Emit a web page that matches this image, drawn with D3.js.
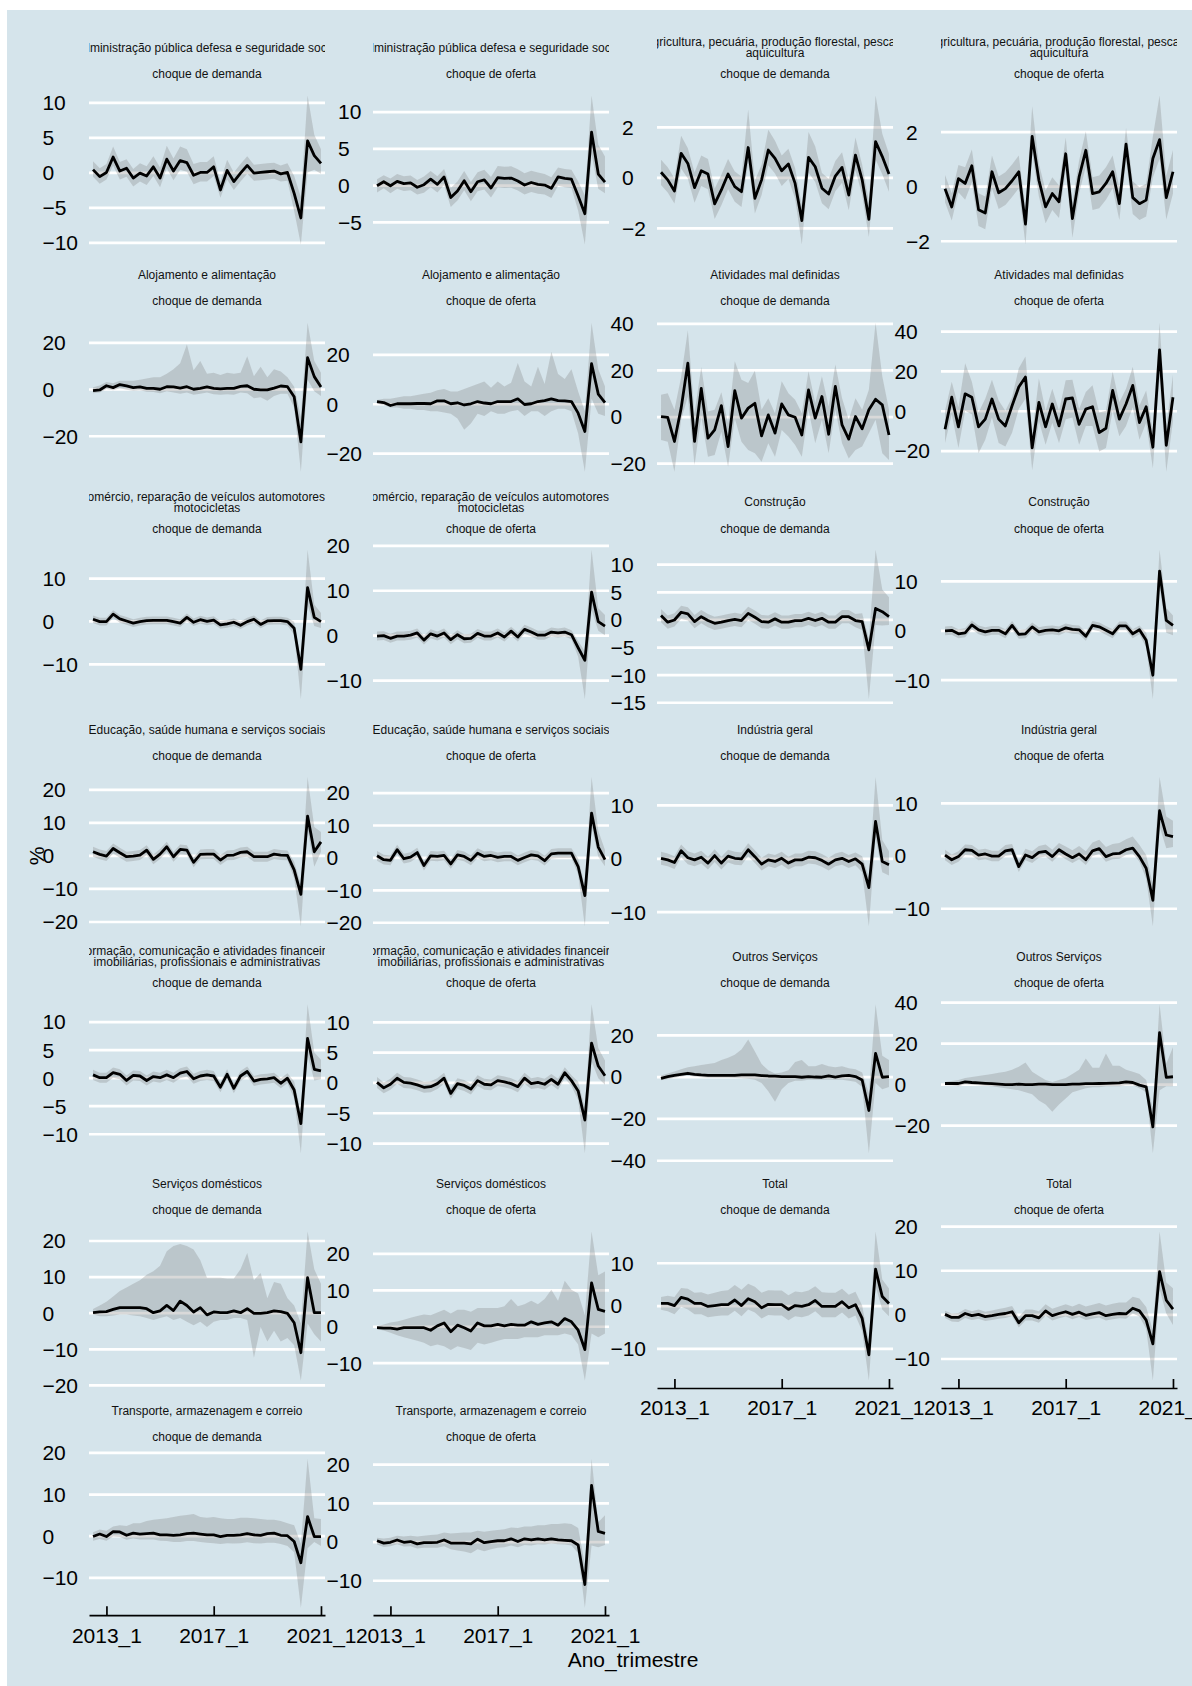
<!DOCTYPE html>
<html><head><meta charset="utf-8">
<script src="https://cdn.jsdelivr.net/npm/d3@7"></script>
<style>body{margin:0;background:#fff} svg{display:block}</style>
</head><body><svg id="c" width="1192" height="1686"></svg>
<script>
const quarters = ["2012_3","2012_4","2013_1","2013_2","2013_3","2013_4","2014_1","2014_2","2014_3","2014_4","2015_1","2015_2","2015_3","2015_4","2016_1","2016_2","2016_3","2016_4","2017_1","2017_2","2017_3","2017_4","2018_1","2018_2","2018_3","2018_4","2019_1","2019_2","2019_3","2019_4","2020_1","2020_2","2020_3","2020_4","2021_1"];
const tickQuarters = ["2013_1","2017_1","2021_1"];
const sectors = [
 "Administração pública defesa e seguridade social",
 "Agricultura, pecuária, produção florestal, pesca e\naquicultura",
 "Alojamento e alimentação",
 "Atividades mal definidas",
 "Comércio, reparação de veículos automotores e\nmotocicletas",
 "Construção",
 "Educação, saúde humana e serviços sociais",
 "Indústria geral",
 "Informação, comunicação e atividades financeiras,\nimobiliárias, profissionais e administrativas",
 "Outros Serviços",
 "Serviços domésticos",
 "Total",
 "Transporte, armazenagem e correio"];
const shocks = ["choque de demanda","choque de oferta"];
const xTitle = "Ano_trimestre";
const yTitle = "%";

// ---- series: line, band widths above (U) / below (D) or band limits (Hi/Lo) ----
const adDemL=[0.4,-0.6,0,2.2,0.2,0.6,-0.8,-0.1,-0.5,0.8,-0.8,1.9,0.2,1.7,1.4,-0.4,0,0,0.8,-2.5,0.3,-1.3,-0.1,1.0,-0.1,0,0.1,0.2,-0.2,0,-3.0,-6.5,4.5,2.4,1.3];
const adDemU=[1.2,1.2,1.2,1.5,1.3,1.3,1.3,1.4,1.4,1.5,1.5,1.9,1.8,2.0,1.9,1.6,1.5,1.5,1.5,1.2,1.5,1.3,1.3,1.3,1.2,1.2,1.2,1.2,1.2,1.3,2.5,3.0,6.5,3.0,2.0];
const adDemD=[1.0,1.0,1.0,1.2,1.2,1.2,1.2,1.2,1.3,1.3,1.3,1.3,1.3,1.3,1.3,1.3,1.3,1.3,1.3,1.1,1.3,1.2,1.2,1.2,1.1,1.1,1.1,1.1,1.1,1.2,2.5,3.8,4.5,2.0,1.5];
const adDemT=[-10,-5,0,5,10];

const adOfL=[-0.1,0.45,-0.1,0.5,0.2,0.3,-0.3,0.05,0.8,0.1,1.1,-1.7,-0.8,0.6,-0.9,0.45,0.7,-0.4,1.0,0.9,0.95,0.55,0,0.35,0.1,0,-0.45,1.1,0.9,0.8,-1.5,-3.9,7.2,1.5,0.4];
const adOfU=[0.9,0.9,1.0,1.0,1.0,1.0,1.0,1.1,1.1,1.1,1.1,1.3,1.3,1.3,1.3,1.3,1.4,1.5,1.6,1.6,1.6,1.6,1.6,1.6,1.6,1.5,1.5,1.3,1.3,1.3,2.0,2.5,5.0,4.0,3.5];
const adOfD=[0.9,0.9,1.0,1.0,1.0,1.0,1.0,1.1,1.1,1.1,1.1,1.3,1.3,1.3,1.3,1.3,1.3,1.3,1.3,1.3,1.3,1.3,1.3,1.3,1.3,1.3,1.3,1.2,1.2,1.2,2.0,4.2,3.0,2.0,1.5];
const adOfT=[-5,0,5,10];

const agDemL=[0.2,-0.1,-0.54,0.95,0.55,-0.41,0.26,0.13,-1.05,-0.5,0.13,-0.37,-0.57,1.18,-0.83,-0.1,1.08,0.75,0.26,0.53,-0.24,-1.71,0.79,0.42,-0.43,-0.66,0.05,0.39,-0.7,0.88,-0.1,-1.66,1.41,0.82,0.13];
const agDemU=[0.5,0.5,0.5,0.7,0.6,0.6,0.6,0.6,0.6,0.6,0.6,0.6,0.6,1.5,0.7,0.6,0.8,0.7,0.6,0.6,0.6,0.6,1.0,0.8,0.6,0.6,0.6,0.6,0.6,0.7,0.6,0.7,1.83,0.9,0.8];
const agDemD=[0.5,0.5,0.5,0.6,0.6,0.6,0.6,0.6,0.6,0.6,0.6,0.6,0.6,0.6,0.6,0.6,0.6,0.6,0.6,0.6,0.6,0.95,0.6,0.6,0.6,0.6,0.6,0.6,0.6,0.6,0.6,0.7,0.7,0.7,0.7];
const agDemT=[-2,0,2];

const agOfL=[-0.09,-0.76,0.28,0.1,0.75,-0.86,-0.98,0.53,-0.24,-0.09,0.2,0.53,-1.39,1.83,0.22,-0.76,-0.27,-0.57,1.19,-1.19,0.34,1.32,-0.27,-0.21,0.1,0.53,-0.64,1.54,-0.42,-0.64,-0.51,1.02,1.71,-0.42,0.53];
const agOfU=[0.5,0.5,0.5,0.6,0.6,0.6,0.6,0.6,0.6,0.6,0.6,0.6,0.6,1.1,0.6,0.6,0.6,0.6,0.6,0.6,0.6,0.7,0.6,0.6,0.6,0.6,0.6,0.6,0.6,0.6,0.6,0.8,1.62,0.8,0.8];
const agOfD=[0.5,0.5,0.5,0.6,0.6,0.6,0.6,0.6,0.6,0.6,0.6,0.6,0.75,0.6,0.6,0.6,0.6,0.6,0.6,0.7,0.6,0.6,0.6,0.6,0.6,0.6,0.6,0.6,0.6,0.6,0.6,0.7,0.7,0.8,0.8];
const agOfT=[-2,0,2];

const alDemL=[-0.7,-0.4,1.4,0.6,1.9,1.3,0.6,0.9,0.3,0.3,-0.1,1.0,0.9,0.4,1.0,-0.1,0.3,0.9,0.3,0.1,0.3,0.3,1.1,1.4,-0.1,-0.4,-0.4,0.4,1.3,1.0,-3.3,-22.6,13.4,5.3,0.9];
const alDemHi=[0.8,1.5,3,2.5,3.5,3.5,3.5,4,4.5,5,5,6.5,8.5,11,19,8,12,6.5,7,6,7,6.5,7,14,5.5,9.5,5,8.5,7.5,5,1,-12,28.4,12,7];
const alDemLo=[-1.8,-1.5,0,-0.5,0.3,-0.3,-0.7,-0.5,-1.2,-1.3,-1.8,-1,-1.5,-2,-1.5,-2.5,-2,-1.5,-2.2,-2.5,-2.2,-2.5,-1.5,-1.8,-4,-3.5,-5,-3,-2,-2,-8,-35.4,4,-1,-3];
const alDemT=[-20,0,20];

const alOfL=[0.9,0.5,-0.7,0,0,0,0.1,0.1,0,1.2,1.2,0,0.4,-0.5,0,0.9,0.3,0,0.9,0.9,0.9,2.0,-0.3,0,0.9,1.3,2.0,1.3,1.2,0.9,-3.8,-11.2,16.2,3.9,0.5];
const alOfHi=[1.5,2,2,2.5,3,3,3.5,4,4.5,5.5,6,5,5,6,7,8,9,6.5,9,7,8.5,16.5,9,7,15,8,21,12,10,14,5,-3,32.8,14,7];
const alOfLo=[0,-0.5,-1.5,-1.5,-2,-2,-2.5,-2.5,-3,-3,-3.5,-4,-6,-10.5,-8,-4,-5,-3,-4,-4,-3,-2.5,-5,-3,-3,-5,-3,-2,-2,-3,-12,-27.5,2,-4,-5];
const alOfT=[-20,0,20];

const atDemL=[0,-0.4,-10.7,3.6,22.9,-10.7,12.1,-9.3,-5.7,4.7,-12.9,11.1,-0.7,3.6,5.7,-8.3,0.7,-7.1,5.4,0.7,-0.3,-7.9,11.4,-0.7,8.6,-7.6,12.9,-3.6,-9.7,0,-5.3,2.9,7.4,5,-7.9];
const atDemHi=[9.4,10,2.9,17,37,1.4,21.3,2.2,2.9,10.4,-2.9,23.7,15.8,14.4,19.7,2.9,7.9,1.4,15.1,10,7.2,1.4,19.4,5.8,17.3,4.3,22.3,7.9,-1.4,7.9,2.9,11.5,40.3,17.3,2.9];
const atDemLo=[-10.1,-10.8,-23.7,-1.4,8.6,-20.9,0,-17.3,-16.5,-6.5,-21.6,-0.7,-10.8,-14.4,-15.8,-19.4,-11.5,-17.3,-5.8,-8.6,-12.2,-17.3,2.9,-11.5,-1.4,-15.8,2.9,-11.5,-18,-14.4,-12.9,-7.2,-1.4,-15.8,-18.7];
const atDemT=[-20,0,20,40];

const atOfL=[-9.3,6.8,-8.1,8.5,6.8,-8.1,-4.2,5.9,-4.2,-7.6,2.5,11.9,16.9,-18.6,4.2,-8.1,3.4,-7.6,5.9,6.4,-6.8,0.8,2.0,-11.0,-8.8,10.2,-4.2,3.4,12.7,-5.9,2.0,-18.3,30.5,-17.3,6.8];
const atOfHi=[0,14.5,1.7,23.8,14.5,-0.9,6,15.6,5.1,0,6.8,21.3,27.2,-11.9,16.2,0,11,0,15.3,15.6,0.9,9.4,12.8,-0.9,0,19.6,4.3,11,22.1,2.6,10.2,-10.2,44.2,-7.7,17.9];
const atOfLo=[-16.2,-1.7,-18.7,0,-1.7,-21.3,-14.5,-3.4,-16.2,-17.9,-11,0.9,6,-29.8,-5.1,-17,-6,-16.2,-4.3,-3.4,-17,-7.7,-7.7,-20.4,-18.7,0,-12.8,-7.7,1.7,-14.5,-6,-28.9,17,-30.6,-5.1];
const atOfT=[-20,0,20,40];

const coDemL=[0.4,-0.15,-0.15,1.6,0.5,0,-0.5,-0.15,0.1,0.15,0.15,0.15,-0.15,-0.5,0.85,-0.3,0.3,-0.1,0.2,-0.9,-0.7,-0.3,-1.0,-0.15,0.4,-0.8,0,0.1,0.1,-0.15,-1.7,-11.3,7.8,0.85,-0.15];
const coDemU=[0.9,0.9,0.9,0.9,0.9,0.9,0.9,0.9,0.9,0.9,0.9,0.9,0.9,0.9,0.9,0.9,0.9,0.9,0.9,0.9,0.9,0.9,0.9,0.9,0.9,0.9,0.9,0.9,0.9,0.9,1.5,2,8.8,3,2];
const coDemD=[0.9,0.9,0.9,0.9,0.9,0.9,0.9,0.9,0.9,0.9,0.9,0.9,0.9,0.9,0.9,0.9,0.9,0.9,0.9,0.9,0.9,0.9,0.9,0.9,0.9,0.9,0.9,0.9,0.9,0.9,1.5,6.9,4,2,1.5];
const coDemT=[-10,0,10];

const coOfL=[-0.2,-0.1,-0.7,-0.2,-0.2,0,0.5,-1.1,0.3,-0.2,0.5,-1.0,0.1,-0.8,-0.7,0.4,-0.2,-0.2,0.5,-0.4,0.9,-0.4,1.3,0.7,0,0,0.7,0.5,0.7,0.1,-2.8,-5.6,9.6,3.0,2.0];
const coOfU=[1,1,1,1,1,1,1,1,1,1,1,1,1,1,1,1,1,1,1,1,1,1,1,1,1,1,1,1,1,1,1.5,2,9.4,3,2.5];
const coOfD=[1,1,1,1,1,1,1,1,1,1,1,1,1,1,1,1,1,1,1,1,1,1,1,1,1,1,1,1,1,1,2,8.6,4,2,2];
const coOfT=[-10,0,10,20];

const cnDemL=[0.7,-0.5,-0.1,1.3,1.0,-0.4,0.5,-0.2,-0.7,-0.5,-0.2,0,-0.2,1.1,0.4,-0.4,-0.5,0.1,-0.5,-0.5,-0.2,-0.2,0.2,-0.2,0.2,-0.5,-0.5,0.5,0.5,-0.2,-0.4,-5.5,2.0,1.4,0.5];
const cnDemU=[1.2,1.2,1.2,1.2,1.2,1.2,1.2,1.2,1.2,1.2,1.2,1.2,1.2,1.2,1.2,1.2,1.2,1.2,1.2,1.2,1.2,1.2,1.2,1.2,1.2,1.2,1.2,1.2,1.2,1.2,1.5,2,10.6,4,3.5];
const cnDemD=[1.2,1.2,1.2,1.2,1.2,1.2,1.2,1.2,1.2,1.2,1.2,1.2,1.2,1.2,1.2,1.2,1.2,1.2,1.2,1.2,1.2,1.2,1.2,1.2,1.2,1.2,1.2,1.2,1.2,1.2,1.5,8.9,3,2.5,1.5];
const cnDemT=[-15,-10,-5,0,5,10];

const cnOfL=[-0.1,0,-0.7,-0.5,1.1,0.1,-0.3,0,0,-0.7,1.0,-0.8,-0.7,0.7,-0.3,0,0.1,-0.1,0.5,0.2,0.1,-1.2,1.0,0.7,0,-0.7,0.9,0.9,-0.7,0.1,-2.0,-9.1,12.0,2.0,1.0];
const cnOfU=[0.9,0.9,0.9,0.9,0.9,0.9,0.9,0.9,0.9,0.9,0.9,0.9,0.9,0.9,0.9,0.9,0.9,0.9,0.9,0.9,0.9,0.9,0.9,0.9,0.9,0.9,0.9,0.9,0.9,0.9,1.5,2,4.3,2.5,2];
const cnOfD=[0.9,0.9,0.9,0.9,0.9,0.9,0.9,0.9,0.9,0.9,0.9,0.9,0.9,0.9,0.9,0.9,0.9,0.9,0.9,0.9,0.9,0.9,0.9,0.9,0.9,0.9,0.9,0.9,0.9,0.9,1.5,4.8,3,2.5,2];
const cnOfT=[-10,0,10];

const edDemL=[1.1,0.3,-0.2,2.1,0.8,-0.4,-0.2,0.1,1.6,-1.2,0.4,2.6,-0.4,1.8,1.6,-2.1,0.3,0.4,0.4,-1.4,0,0.1,0.9,1.1,-0.4,-0.4,-0.4,0.4,0.1,0,-4.4,-11.8,11.9,1.1,4.1];
const edDemU=[1.5,1.5,1.5,1.5,1.5,1.5,1.5,1.5,1.5,1.5,1.5,1.5,1.5,1.5,1.5,1.5,1.5,1.5,1.5,1.5,1.5,1.5,1.5,1.5,1.5,1.5,1.5,1.5,1.5,1.5,2.5,3,11.8,7.5,3];
const edDemD=[1.5,1.5,1.5,1.5,1.5,1.5,1.5,1.5,1.5,1.5,1.5,1.5,1.5,1.5,1.5,1.5,1.5,1.5,1.5,1.5,1.5,1.5,1.5,1.5,1.5,1.5,1.5,1.5,1.5,1.5,2.5,9.6,4,4.5,3];
const edDemT=[-20,-10,0,10,20];

const edOfL=[0.5,-0.7,-0.9,2.4,-0.4,0.1,1.5,-2.5,0.5,0.3,0.6,-2.0,0.8,0.3,-0.9,1.3,0.3,0.6,0,0.3,0.3,-0.9,0,0.8,0.5,-1.0,1.1,1.3,1.3,1.3,-2.8,-11.8,13.7,3.2,-0.7];
const edOfU=[1.5,1.5,1.5,1.5,1.5,1.5,1.5,1.5,1.5,1.5,1.5,1.5,1.5,1.5,1.5,1.5,1.5,1.5,1.5,1.5,1.5,1.5,1.5,1.5,1.5,1.5,1.5,1.5,1.5,1.5,2.5,3,11.1,5,3];
const edOfD=[1.5,1.5,1.5,1.5,1.5,1.5,1.5,1.5,1.5,1.5,1.5,1.5,1.5,1.5,1.5,1.5,1.5,1.5,1.5,1.5,1.5,1.5,1.5,1.5,1.5,1.5,1.5,1.5,1.5,1.5,2.5,9.4,4,3,2];
const edOfT=[-20,-10,0,10,20];

const inDemL=[0,-0.3,-0.8,1.4,0.1,-0.3,0.2,-0.9,0.5,-0.9,0.4,0,-0.1,1.6,0.3,-1.1,-0.3,-0.6,0,-0.9,-0.3,-0.3,0.2,0.1,-0.4,-1.1,-0.3,0,-0.6,-0.1,-1.1,-5.5,6.9,-0.6,-1.2];
const inDemU=[1.2,1.2,1.2,1.2,1.2,1.2,1.2,1.2,1.2,1.2,1.2,1.2,1.2,1.2,1.2,1.2,1.2,1.2,1.2,1.2,1.2,1.2,1.2,1.2,1.2,1.2,1.2,1.2,1.2,1.2,1.5,2,8.3,4,2.5];
const inDemD=[1.2,1.2,1.2,1.2,1.2,1.2,1.2,1.2,1.2,1.2,1.2,1.2,1.2,1.2,1.2,1.2,1.2,1.2,1.2,1.2,1.2,1.2,1.2,1.2,1.2,1.2,1.2,1.2,1.2,1.2,1.5,7.2,3,2,2];
const inDemT=[-10,0,10];

const inOfL=[0.1,-0.8,-0.2,1.1,1.0,0.1,0.3,-0.1,-0.1,0.9,1.1,-2.1,0.1,-0.4,0.6,0.8,-0.2,1.1,0.3,-0.4,0.3,-0.8,0.9,1.3,-0.2,0.3,0.4,1.1,1.4,-0.2,-2.4,-8.5,8.5,3.9,3.6];
const inOfU=[1,1,1,1,1,1,1,1,1,1.1,1.1,1.1,1.2,1.2,1.2,1.3,1.3,1.3,1.4,1.4,1.5,1.6,1.6,1.7,1.8,1.9,2,2,2.2,2.2,2.5,3,6.4,3.5,3];
const inOfD=[1,1,1,1,1,1,1,1,1,1,1,1,1,1,1,1,1,1,1,1,1,1,1,1,1,1,1,1,1,1,2,4.9,3,2.5,2];
const inOfT=[-10,0,10];

const ifDemL=[0.5,0,0,0.9,0.6,-0.5,0.4,0.3,-0.5,0.2,0,0.5,0,0.8,1.1,-0.2,0.3,0.5,0.3,-1.7,0.6,-1.9,0.3,1.1,-0.6,-0.3,-0.2,0,-1.0,-0.1,-2.2,-8.2,7.0,1.5,1.2];
const ifDemU=[0.9,0.9,0.9,0.9,0.9,0.9,0.9,0.9,0.9,0.9,0.9,0.9,0.9,0.9,0.9,0.9,0.9,0.9,0.9,0.9,0.9,0.9,0.9,0.9,0.9,0.9,0.9,0.9,0.9,0.9,1.5,2,6.1,3,2];
const ifDemD=[0.9,0.9,0.9,0.9,0.9,0.9,0.9,0.9,0.9,0.9,0.9,0.9,0.9,0.9,0.9,0.9,0.9,0.9,0.9,0.9,0.9,0.9,0.9,0.9,0.9,0.9,0.9,0.9,0.9,0.9,1.5,5.3,3,2,1.5];
const ifDemT=[-10,-5,0,5,10];

const ifOfL=[0,-0.9,-0.3,0.7,0,-0.1,-0.4,-0.8,-0.7,-0.2,0.7,-1.8,-0.2,-0.5,-1.1,0.3,-0.3,-0.4,0.3,0.1,-0.2,-0.7,0.7,-0.2,0,-0.3,0.5,-0.3,1.6,0.3,-1.4,-6.2,6.5,2.7,1.1];
const ifOfU=[0.9,0.9,0.9,0.9,0.9,0.9,0.9,0.9,0.9,0.9,0.9,0.9,0.9,0.9,0.9,0.9,0.9,0.9,0.9,0.9,0.9,0.9,0.9,0.9,0.9,0.9,0.9,0.9,0.9,0.9,1.5,2,6.4,3,2.5];
const ifOfD=[0.9,0.9,0.9,0.9,0.9,0.9,0.9,0.9,0.9,0.9,0.9,0.9,0.9,0.9,0.9,0.9,0.9,0.9,0.9,0.9,0.9,0.9,0.9,0.9,0.9,0.9,0.9,0.9,0.9,0.9,1.5,5.5,3,2,1.5];
const ifOfT=[-10,-5,0,5,10];

const otDemL=[-0.8,0,0.6,1.1,1.6,1.1,0.8,0.6,0.6,0.6,0.6,0.6,0.8,0.8,0.8,0.5,0.3,0.2,0,0,0,-0.3,0,-0.2,-0.3,0.3,-0.2,0.3,0.6,0,-1.6,-16.2,11.1,-0.3,0];
const otDemHi=[0.5,1.5,2.5,3.5,4.5,5,5.5,6,6.5,8,9,10.5,13,17.8,12,6,3,1.5,2,3,7,8,5,5,6,5,4.5,5,4,3.5,2,-8,34.6,10,8];
const otDemLo=[-1.8,-1.2,-0.5,0,0.5,0,-0.3,-0.5,-0.5,-0.6,-0.6,-0.7,-0.8,-1,-1.5,-3,-7,-12,-6,-3,-2,-2,-1.5,-1.5,-1.5,-1.5,-1.5,-1.5,-2,-2.5,-5,-36.7,-3,-6,-5];
const otDemT=[-40,-20,0,20];

const otOfL=[0.3,0.3,0.3,1.1,0.8,0.6,0.4,0.2,0,-0.2,-0.2,0,-0.2,-0.2,0,0,-0.2,-0.2,-0.2,0,0,0.2,0.2,0.3,0.4,0.5,0.6,1.1,0.8,-0.5,-1.3,-20.9,25.1,3.3,3.6];
const otOfHi=[1,1.5,2,3,3.5,4,4.5,5,5.5,6,7,8.5,10.5,6,4,2,1,2,3,5,7,12.5,8,8,15,9,9,7,6,5,2,-12,39,10,18];
const otOfLo=[-0.5,-0.7,-1,0,-0.3,-0.5,-0.8,-1,-1.5,-2,-2.5,-3,-4,-5,-8,-10,-13.5,-10,-7,-4,-3,-2,-1.5,-1.5,-1,-1,-1,-0.5,-0.5,-2,-4,-33.8,-3,-1,-1];
const otOfT=[-20,0,20,40];

const sdDemL=[0,0.2,0.3,0.9,1.4,1.4,1.4,1.4,1.1,0,0.5,2.0,0.6,3.2,2.0,0.2,1.4,-0.6,0.2,0,0,0.5,0,1.1,-0.2,-0.2,0,0.5,0.3,-0.2,-2.8,-11.1,9.7,0,0];
const sdDemHi=[1,2,3,4.5,6,7,8,9,10.5,11.5,13,17,18.5,19,18.5,17.5,14.5,9.7,9.7,9.7,9.5,9.5,12,16.5,9,11,4,8.5,8,4,2,-3,22.5,12,8];
const sdDemLo=[-0.5,-1,-1,-0.8,-0.5,-0.5,-0.8,-1,-1.5,-2,-1.5,-1,-2,-1.5,-2.5,-3.5,-2.5,-4,-2.5,-2,-2,-1.5,-1.5,-2,-12.5,-4,-8,-5,-8,-7,-9,-18.8,-3,-6,-8];
const sdDemT=[-20,-10,0,10,20];

const sdOfL=[-0.4,-0.5,-0.5,-0.8,-0.4,-0.4,-0.4,-0.4,-1.1,0.1,0.9,-1.5,0.3,-0.4,-1.3,0.9,0.1,0.1,0.5,0.1,0.5,0.3,0.3,1.2,0.5,0.9,1.2,0.3,2.1,1.2,-1.1,-6.4,11.9,4.6,4.1];
const sdOfHi=[0,0.5,1,1.3,1.8,2.3,2.8,3.2,3,3.8,4.5,3.5,4.5,4.5,4,5,5,5,5,5.5,7.5,5.5,6,7,6,7.5,10,7,12.5,10,9,3,26,14,15];
const sdOfLo=[-0.8,-1.2,-1.8,-2.5,-3,-3.5,-4,-4.5,-5.5,-5,-5.5,-6.5,-5.5,-6,-6.5,-4.5,-5,-4.5,-4,-3.5,-3.5,-3.5,-3,-3,-3,-2.5,-2.5,-2.5,-2,-2.5,-5,-14.9,-2,-3,-2];
const sdOfT=[-10,0,10,20];

const toDemL=[0.5,0.5,0,1.9,1.5,0.5,0.5,-0.2,0,0.2,0.2,1.3,0,1.6,0.9,-0.5,0.3,0.2,0.2,-0.9,0,-0.2,0.2,1.2,-0.2,-0.2,-0.2,0.9,-0.5,0.2,-3.0,-11.5,8.5,2.1,0.5];
const toDemU=[1.5,1.8,2,2.2,2.4,2.5,2.6,2.8,3,3.2,3.4,3.5,3.7,3.5,3.5,3.5,3.3,3.3,3.3,3.3,3.3,3.3,3.3,3.3,3.3,3.2,3.2,3,3,3,3,3,8.8,4,3.5];
const toDemD=[1.5,1.8,2,2.2,2.4,2.5,2.5,2.5,2.5,2.5,2.5,2.5,2.5,2.5,2.5,2.5,2.5,2.5,2.5,2.5,2.5,2.5,2.5,2.5,2.5,2.5,2.5,2.5,2.5,2.5,3,6,4,3,3];
const toDemT=[-10,0,10];

const toOfL=[0,-0.7,-0.7,0.2,-0.3,0,-0.5,-0.3,0,0.2,0.6,-1.9,-0.3,-0.3,-0.8,0.8,-0.3,0.2,0.6,0,0.5,-0.2,0.1,0.4,-0.3,0,0.2,0.1,1.4,0.8,-1.3,-6.7,9.7,3.2,1.2];
const toOfU=[0.8,0.9,1,1,1,1.1,1.1,1.2,1.2,1.3,1.3,1.3,1.4,1.4,1.5,1.5,1.6,1.6,1.7,1.8,1.9,2,2.1,2.2,2.3,2.4,2.5,2.6,2.6,2.8,3,3,9.1,4,4.7];
const toOfD=[0.8,0.9,1,1,1,1,1,1,1,1,1,1.1,1.1,1.1,1.1,1.1,1.1,1.1,1.1,1.1,1.1,1.1,1.1,1.1,1.1,1.1,1.1,1.1,1.2,1.3,2,8.3,4,3,3.6];
const toOfT=[-10,0,10,20];

const trDemL=[-0.2,0.4,-0.2,1.0,0.9,0.1,0.6,0.4,0.5,0.6,0.2,0.2,0.1,0.2,0.5,0.6,0.4,0.2,0.2,-0.2,0.1,0.1,0.2,0.5,0.2,0.1,0.5,0.6,0.1,0,-1.4,-6.5,4.6,-0.2,-0.2];
const trDemHi=[0.8,1.5,1.2,2.2,2.5,2.3,3,3,3.5,3.8,4,4.2,4.5,4.8,5,5.2,4.5,4.3,4.5,4.2,4,4,4.3,4.3,4.2,4,3.8,3.8,3.5,3,2.5,-2,18.5,4.2,4];
const trDemLo=[-1.2,-0.8,-1.2,-0.2,-0.3,-1,-0.7,-0.9,-0.9,-0.9,-1.2,-1.3,-1.5,-1.5,-1.3,-1.3,-1.5,-1.7,-1.8,-2,-1.8,-1.9,-1.8,-1.6,-1.8,-1.9,-1.7,-1.7,-2,-2.5,-4,-17.3,-3,-1.5,-2.5];
const trDemT=[-10,0,10,20];

const trOfL=[0.2,-0.4,-0.2,0.4,-0.2,0,-0.6,-0.3,-0.3,-0.2,0.4,-0.4,-0.4,-0.4,-0.6,0.6,-0.3,0,0.2,0.2,0.7,0,0.7,0.4,0.7,0.4,0.7,0.4,0.3,0.2,-0.9,-11.1,14.5,2.6,2.1];
const trOfHi=[1,0.8,1,1.5,1.3,1.5,1.3,1.5,1.7,1.8,2.3,2.1,2.2,2.3,2.3,2.8,2.5,2.8,3,3.2,3.6,3.5,3.9,3.9,4.2,4.2,4.5,4.5,4.7,4.5,3.5,-6,21.4,5,6.8];
const trOfLo=[-0.8,-1.4,-1.2,-0.7,-1.3,-1.2,-1.8,-1.6,-1.6,-1.6,-1.2,-2,-2.3,-2.6,-3,-2,-2.5,-2,-1.6,-1.5,-1,-1.5,-0.9,-1,-0.7,-0.8,-0.5,-0.7,-0.8,-1,-3,-17.1,-1,-1.5,-0.9];
const trOfT=[-10,0,10,20];

// panels in facet order (sector index, shock index)
const panels = [
 {s:0,k:0,line:adDemL,up:adDemU,dn:adDemD,ticks:adDemT},
 {s:0,k:1,line:adOfL,up:adOfU,dn:adOfD,ticks:adOfT},
 {s:1,k:0,line:agDemL,up:agDemU,dn:agDemD,ticks:agDemT},
 {s:1,k:1,line:agOfL,up:agOfU,dn:agOfD,ticks:agOfT},
 {s:2,k:0,line:alDemL,hi:alDemHi,lo:alDemLo,ticks:alDemT},
 {s:2,k:1,line:alOfL,hi:alOfHi,lo:alOfLo,ticks:alOfT},
 {s:3,k:0,line:atDemL,hi:atDemHi,lo:atDemLo,ticks:atDemT},
 {s:3,k:1,line:atOfL,hi:atOfHi,lo:atOfLo,ticks:atOfT},
 {s:4,k:0,line:coDemL,up:coDemU,dn:coDemD,ticks:coDemT},
 {s:4,k:1,line:coOfL,up:coOfU,dn:coOfD,ticks:coOfT},
 {s:5,k:0,line:cnDemL,up:cnDemU,dn:cnDemD,ticks:cnDemT},
 {s:5,k:1,line:cnOfL,up:cnOfU,dn:cnOfD,ticks:cnOfT},
 {s:6,k:0,line:edDemL,up:edDemU,dn:edDemD,ticks:edDemT},
 {s:6,k:1,line:edOfL,up:edOfU,dn:edOfD,ticks:edOfT},
 {s:7,k:0,line:inDemL,up:inDemU,dn:inDemD,ticks:inDemT},
 {s:7,k:1,line:inOfL,up:inOfU,dn:inOfD,ticks:inOfT},
 {s:8,k:0,line:ifDemL,up:ifDemU,dn:ifDemD,ticks:ifDemT},
 {s:8,k:1,line:ifOfL,up:ifOfU,dn:ifOfD,ticks:ifOfT},
 {s:9,k:0,line:otDemL,hi:otDemHi,lo:otDemLo,ticks:otDemT},
 {s:9,k:1,line:otOfL,hi:otOfHi,lo:otOfLo,ticks:otOfT},
 {s:10,k:0,line:sdDemL,hi:sdDemHi,lo:sdDemLo,ticks:sdDemT},
 {s:10,k:1,line:sdOfL,hi:sdOfHi,lo:sdOfLo,ticks:sdOfT},
 {s:11,k:0,line:toDemL,up:toDemU,dn:toDemD,ticks:toDemT},
 {s:11,k:1,line:toOfL,up:toOfU,dn:toOfD,ticks:toOfT},
 {s:12,k:0,line:trDemL,hi:trDemHi,lo:trDemLo,ticks:trDemT},
 {s:12,k:1,line:trOfL,hi:trOfHi,lo:trOfLo,ticks:trOfT}
];

// ---- drawing ----
const FONT = '"Liberation Sans", Arial, Helvetica, sans-serif';
const BG = "#d5e4eb";
const PW = 236, COL0 = 89, COLSTEP = 284, SUB0 = 74, ROWSTEP = 227.2;
const NCOL = 4;
const svg = d3.select("#c");
svg.append("rect").attr("x",7).attr("y",10).attr("width",1192-7).attr("height",1686-10).attr("fill",BG);
const defs = svg.append("defs");
const fmt = t => (t<0 ? "\u2212"+Math.abs(t) : String(t));
const problems = [];

panels.forEach((p, idx) => {
  const r = Math.floor(idx/NCOL), c = idx % NCOL;
  const x0 = COL0 + COLSTEP*c;
  const sub = SUB0 + ROWSTEP*r;
  const top = sub + 14, bot = sub + 178;
  const lo = p.lo || p.line.map((v,i)=>v-p.dn[i]);
  const hi = p.hi || p.line.map((v,i)=>v+p.up[i]);
  [p.line, lo, hi].forEach(a => { if (a.length !== quarters.length) problems.push(idx+":"+a.length); });
  const all = p.line.concat(lo, hi);
  const mn = d3.min(all), mx = d3.max(all), pad = (mx-mn)*0.05;
  const y = d3.scaleLinear().domain([mn-pad, mx+pad]).range([bot, top]);
  const x = d3.scalePoint().domain(quarters).range([x0, x0+PW]).padding(0.6);
  const ticks = p.ticks.filter(t => t >= mn-pad-1e-6 && t <= mx+pad+1e-6);

  // y axis: white gridlines + left-justified labels
  const ya = d3.axisLeft(y).tickValues(ticks).tickSizeInner(-PW).tickSizeOuter(0).tickPadding(0).tickFormat(fmt);
  const gy = svg.append("g").attr("transform",`translate(${x0},0)`).call(ya)
     .attr("font-family",FONT).attr("font-size",21);
  gy.select(".domain").remove();
  gy.selectAll(".tick line").attr("stroke","#ffffff").attr("stroke-width",2.7);
  const tt = gy.selectAll(".tick text").attr("fill","#000").attr("text-anchor","start").attr("dy","0.35em");
  const wmax = d3.max(tt.nodes(), n => n.getComputedTextLength());
  tt.attr("x", -11 - wmax);

  // band
  const area = d3.area().x((d,i)=>x(quarters[i])).y0((d,i)=>y(lo[i])).y1((d,i)=>y(hi[i]));
  svg.append("path").datum(p.line).attr("d",area).attr("fill","#808080").attr("fill-opacity",0.3);
  // line
  const ln = d3.line().x((d,i)=>x(quarters[i])).y(d=>y(d));
  svg.append("path").datum(p.line).attr("d",ln).attr("fill","none").attr("stroke","#000")
     .attr("stroke-width",2.8).attr("stroke-linejoin","round").attr("stroke-linecap","butt");

  // x axis on the last panel of each column
  const isBottom = idx + NCOL >= panels.length;
  if (isBottom) {
    const xa = d3.axisBottom(x).tickValues(tickQuarters).tickSizeInner(-9).tickSizeOuter(0).tickPadding(12.5);
    const gx = svg.append("g").attr("transform",`translate(0,${bot})`).call(xa)
       .attr("font-family",FONT).attr("font-size",21);
    gx.select(".domain").attr("stroke","#000").attr("stroke-width",1.7);
    gx.selectAll(".tick line").attr("stroke","#000").attr("stroke-width",1.7);
    gx.selectAll(".tick text").attr("fill","#000");
  }

  // strips (clipped to panel width)
  const cid = "clip"+idx;
  defs.append("clipPath").attr("id",cid).append("rect")
     .attr("x",x0).attr("y",sub-48).attr("width",PW).attr("height",62);
  const gs = svg.append("g").attr("clip-path",`url(#${cid})`)
     .attr("font-family",FONT).attr("font-size",12).attr("fill","#111").attr("text-anchor","middle");
  const lines = sectors[p.s].split("\n");
  const offs = lines.length === 2 ? [-31.8, -20.8] : [-26.3];
  lines.forEach((t,j) => gs.append("text").attr("x",x0+PW/2).attr("y",sub+offs[j]).attr("dy","0.35em").text(t));
  gs.append("text").attr("x",x0+PW/2).attr("y",sub).attr("dy","0.35em").text(shocks[p.k]);
});

// axis titles
svg.append("text").attr("x",COL0 + (COLSTEP*3+PW)/2).attr("y",1660).attr("dy","0.35em")
   .attr("text-anchor","middle").attr("font-family",FONT).attr("font-size",21).attr("fill","#000").text(xTitle);
svg.append("text").attr("transform","translate(37,856) rotate(-90)").attr("dy","0.35em")
   .attr("text-anchor","middle").attr("font-family",FONT).attr("font-size",21).attr("fill","#000").text(yTitle);

if (problems.length) throw new Error("length mismatch: "+problems.join(", "));
</script>
</body></html>
